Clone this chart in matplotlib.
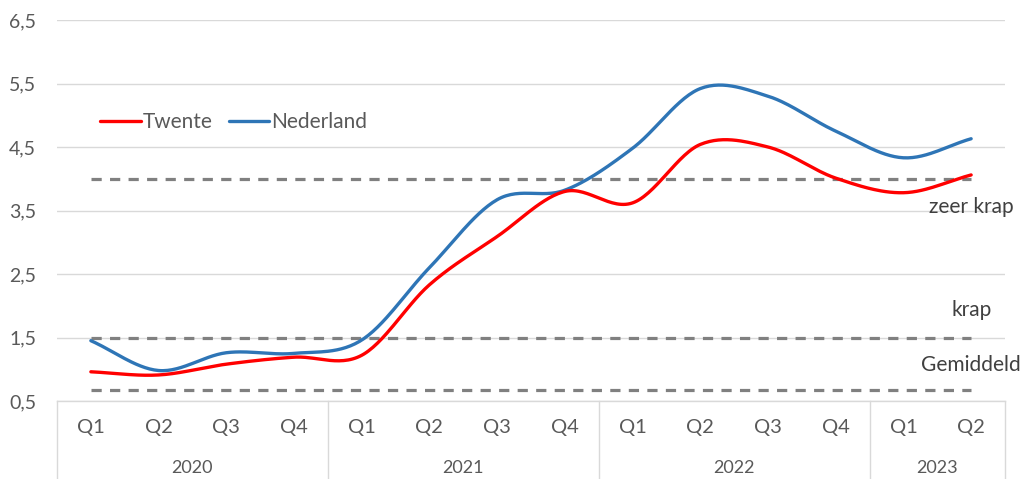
import numpy as np
import matplotlib
matplotlib.use("Agg")
import matplotlib.pyplot as plt
import matplotlib.transforms as mtransforms

plt.rcParams['font.family'] = ['Lato', 'DejaVu Sans']

quarters = ["Q1", "Q2", "Q3", "Q4", "Q1", "Q2", "Q3", "Q4", "Q1", "Q2", "Q3", "Q4", "Q1", "Q2"]
years = ["2020", "2021", "2022", "2023"]
year_counts = [4, 4, 4, 2]
twente = [0.96, 0.91, 1.08, 1.19, 1.22, 2.33, 3.09, 3.80, 3.62, 4.54, 4.50, 4.01, 3.78, 4.06]
nederland = [1.45, 0.98, 1.26, 1.25, 1.46, 2.60, 3.67, 3.82, 4.48, 5.42, 5.30, 4.75, 4.33, 4.63]
zeer_krap = 4.0
krap = 1.5
gemiddeld = 0.67
yticks = [0.5, 1.5, 2.5, 3.5, 4.5, 5.5, 6.5]


def catmull_rom(x, y, n=30):
    x = np.asarray(x, float)
    y = np.asarray(y, float)
    px = np.concatenate([[2 * x[0] - x[1]], x, [2 * x[-1] - x[-2]]])
    py = np.concatenate([[2 * y[0] - y[1]], y, [2 * y[-1] - y[-2]]])
    xs, ys = [], []
    t = np.linspace(0, 1, n, endpoint=False)
    for i in range(1, len(px) - 2):
        p0, p1, p2, p3 = px[i - 1], px[i], px[i + 1], px[i + 2]
        q0, q1, q2, q3 = py[i - 1], py[i], py[i + 1], py[i + 2]
        c1x, c1y = p1 + (p2 - p0) / 6, q1 + (q2 - q0) / 6
        c2x, c2y = p2 - (p3 - p1) / 6, q2 - (q3 - q1) / 6
        bx = (1 - t) ** 3 * p1 + 3 * (1 - t) ** 2 * t * c1x + 3 * (1 - t) * t ** 2 * c2x + t ** 3 * p2
        by = (1 - t) ** 3 * q1 + 3 * (1 - t) ** 2 * t * c1y + 3 * (1 - t) * t ** 2 * c2y + t ** 3 * q2
        xs.append(bx)
        ys.append(by)
    xs.append([x[-1]])
    ys.append([y[-1]])
    return np.concatenate(xs), np.concatenate(ys)


fig = plt.figure(figsize=(10.22, 4.79), dpi=100)
ax = fig.add_axes([57 / 1022, (479 - 401) / 479, (1005 - 57) / 1022, (401 - 20) / 479])

x = np.arange(len(quarters))
ax.set_xlim(-0.5, len(quarters) - 0.5)
ax.set_ylim(0.5, 6.5)

grid_c = '#d9d9d9'
for yt in yticks:
    ax.axhline(yt, color=grid_c, lw=1.0, zorder=0)

dash_c = '#808080'
for lvl in [zeer_krap, krap, gemiddeld]:
    ax.plot([x[0], x[-1]], [lvl, lvl], color=dash_c, lw=2.3, ls=(0, (3.2, 2.6)), zorder=1)

sx, sy = catmull_rom(x, twente)
ax.plot(sx, sy, color='#ff0000', lw=2.4, solid_capstyle='round', zorder=3, label='Twente')
sx, sy = catmull_rom(x, nederland)
ax.plot(sx, sy, color='#2e75b6', lw=2.4, solid_capstyle='round', zorder=2, label='Nederland')

txt_c = '#404040'
lbl_fs = 15
ax.text(x[-1], 3.55, "zeer krap", ha='center', va='center', fontsize=lbl_fs, color=txt_c)
ax.text(x[-1], 1.93, "krap", ha='center', va='center', fontsize=lbl_fs, color=txt_c)
ax.text(x[-1], 1.07, "Gemiddeld", ha='center', va='center', fontsize=lbl_fs, color=txt_c)

for s in ax.spines.values():
    s.set_visible(False)
ax.set_xticks([])
ax.set_yticks(yticks)
ax.set_yticklabels([f"{v:.1f}".replace('.', ',') for v in yticks], fontsize=14, color='#595959')
ax.tick_params(axis='y', length=0, pad=15)

trans = mtransforms.blended_transform_factory(ax.transData, ax.transAxes)
ax.plot([-0.5, len(quarters) - 0.5], [0, 0], color=grid_c, lw=1.0, transform=trans, clip_on=False)
ybot = -(479 - 401) / 381
bounds = [-0.5]
for c in year_counts:
    bounds.append(bounds[-1] + c)
for b in bounds:
    ax.plot([b, b], [0, ybot], color=grid_c, lw=1.0, transform=trans, clip_on=False)
for xi, q in zip(x, quarters):
    ax.text(xi, -26 / 381, q, ha='center', va='center', fontsize=14.5, color='#595959', transform=trans)
for i, yr in enumerate(years):
    ax.text((bounds[i] + bounds[i + 1]) / 2, -67 / 381, yr, ha='center', va='center',
            fontsize=13, color='#595959', transform=trans)

leg = ax.legend(loc='center left', bbox_to_anchor=(0.026, 0.732), ncol=2, frameon=False,
                fontsize=15, handlelength=1.95, handletextpad=0.1, columnspacing=0.75,
                labelcolor='#595959')

fig.savefig("out.png", dpi=100)
